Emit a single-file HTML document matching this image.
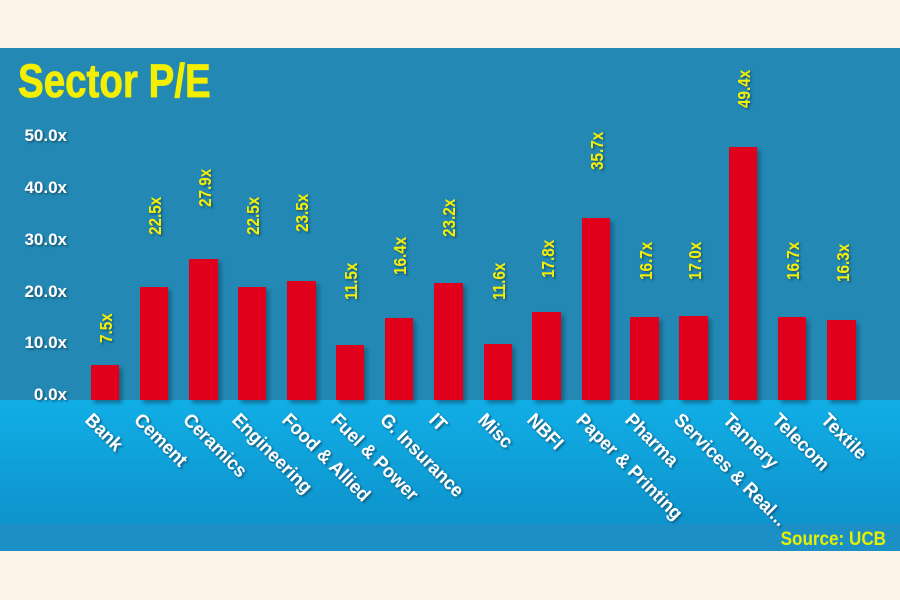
<!DOCTYPE html>
<html><head><meta charset="utf-8"><style>
html,body{margin:0;padding:0;background:#fdf3e8;}
svg{display:block;}
text{font-family:"Liberation Sans Narrow","Liberation Sans",sans-serif;font-weight:bold;}
</style></head><body>
<svg width="900" height="600" viewBox="0 0 900 600" xmlns="http://www.w3.org/2000/svg">
<defs>
<linearGradient id="lb" x1="0" y1="0" x2="0" y2="1"><stop offset="0" stop-color="#11aee6"/><stop offset="1" stop-color="#0e93cc"/></linearGradient>
<filter id="sh" x="-20%" y="-20%" width="160%" height="160%"><feDropShadow dx="3" dy="3" stdDeviation="2" flood-color="#0a3f5a" flood-opacity="0.6"/></filter>
<filter id="ts"><feDropShadow dx="1.5" dy="1.5" stdDeviation="1" flood-color="#0a3a55" flood-opacity="0.7"/></filter>
</defs>
<rect x="0" y="0" width="900" height="600" fill="#fdf3e8"/>
<rect x="0" y="48" width="900" height="352" fill="#2389b4"/>
<rect x="0" y="400" width="900" height="124" fill="url(#lb)"/>
<rect x="0" y="524" width="900" height="27" fill="#1c8fc4"/>
<text transform="translate(18,97) scale(0.82,1)" font-size="47" fill="#f4ee00" stroke="#f4ee00" stroke-width="0.8">Sector P/E</text>
<g font-size="17" fill="#fff" text-anchor="end" filter="url(#ts)">
<text x="67" y="141">50.0x</text><text x="67" y="193">40.0x</text><text x="67" y="245">30.0x</text>
<text x="67" y="297">20.0x</text><text x="67" y="348">10.0x</text><text x="67" y="400">0.0x</text>
</g>
<g fill="#e0001e" filter="url(#sh)">
<rect x="91" y="365" width="28" height="35"/>
<rect x="140" y="287" width="28" height="113"/>
<rect x="189" y="259" width="29" height="141"/>
<rect x="238" y="287" width="28" height="113"/>
<rect x="287" y="281" width="29" height="119"/>
<rect x="336" y="345" width="28" height="55"/>
<rect x="385" y="318" width="28" height="82"/>
<rect x="434" y="283" width="29" height="117"/>
<rect x="484" y="344" width="28" height="56"/>
<rect x="532" y="312" width="29" height="88"/>
<rect x="582" y="218" width="28" height="182"/>
<rect x="630" y="317" width="29" height="83"/>
<rect x="679" y="316" width="29" height="84"/>
<rect x="729" y="147" width="28" height="253"/>
<rect x="778" y="317" width="28" height="83"/>
<rect x="827" y="320" width="29" height="80"/>
</g>
<g font-size="18" fill="#f4ee00" filter="url(#ts)">
<text transform="translate(112,343) rotate(-90) scale(0.85,1)">7.5x</text>
<text transform="translate(161,235) rotate(-90) scale(0.85,1)">22.5x</text>
<text transform="translate(211,207) rotate(-90) scale(0.85,1)">27.9x</text>
<text transform="translate(259,235) rotate(-90) scale(0.85,1)">22.5x</text>
<text transform="translate(308,232) rotate(-90) scale(0.85,1)">23.5x</text>
<text transform="translate(357,300) rotate(-90) scale(0.85,1)">11.5x</text>
<text transform="translate(406,275) rotate(-90) scale(0.85,1)">16.4x</text>
<text transform="translate(455,237) rotate(-90) scale(0.85,1)">23.2x</text>
<text transform="translate(505,300) rotate(-90) scale(0.85,1)">11.6x</text>
<text transform="translate(554,278) rotate(-90) scale(0.85,1)">17.8x</text>
<text transform="translate(603,170) rotate(-90) scale(0.85,1)">35.7x</text>
<text transform="translate(652,280) rotate(-90) scale(0.85,1)">16.7x</text>
<text transform="translate(701,280) rotate(-90) scale(0.85,1)">17.0x</text>
<text transform="translate(750,108) rotate(-90) scale(0.85,1)">49.4x</text>
<text transform="translate(799,280) rotate(-90) scale(0.85,1)">16.7x</text>
<text transform="translate(849,282) rotate(-90) scale(0.85,1)">16.3x</text>
</g>
<g font-size="19" fill="#fff" filter="url(#ts)">
<text transform="translate(84,421) rotate(45) scale(0.95,1)">Bank</text>
<text transform="translate(133,421) rotate(45) scale(0.95,1)">Cement</text>
<text transform="translate(182,421) rotate(45) scale(0.95,1)">Ceramics</text>
<text transform="translate(231,421) rotate(45) scale(0.95,1)">Engineering</text>
<text transform="translate(281,421) rotate(45) scale(0.95,1)">Food &amp; Allied</text>
<text transform="translate(330,421) rotate(45) scale(0.95,1)">Fuel &amp; Power</text>
<text transform="translate(379,421) rotate(45) scale(0.95,1)">G. Insurance</text>
<text transform="translate(428,421) rotate(45) scale(0.95,1)">IT</text>
<text transform="translate(477,421) rotate(45) scale(0.95,1)">Misc</text>
<text transform="translate(526,421) rotate(45) scale(0.95,1)">NBFI</text>
<text transform="translate(575,421) rotate(45) scale(0.95,1)">Paper &amp; Printing</text>
<text transform="translate(624,421) rotate(45) scale(0.95,1)">Pharma</text>
<text transform="translate(673,421) rotate(45) scale(0.95,1)">Services &amp; Real...</text>
<text transform="translate(722,421) rotate(45) scale(0.95,1)">Tannery</text>
<text transform="translate(771,421) rotate(45) scale(0.95,1)">Telecom</text>
<text transform="translate(820,421) rotate(45) scale(0.95,1)">Textile</text>
</g>
<text transform="translate(886,545) scale(0.9,1)" font-size="19" fill="#e8f000" text-anchor="end">Source: UCB</text>
</svg>
</body></html>
